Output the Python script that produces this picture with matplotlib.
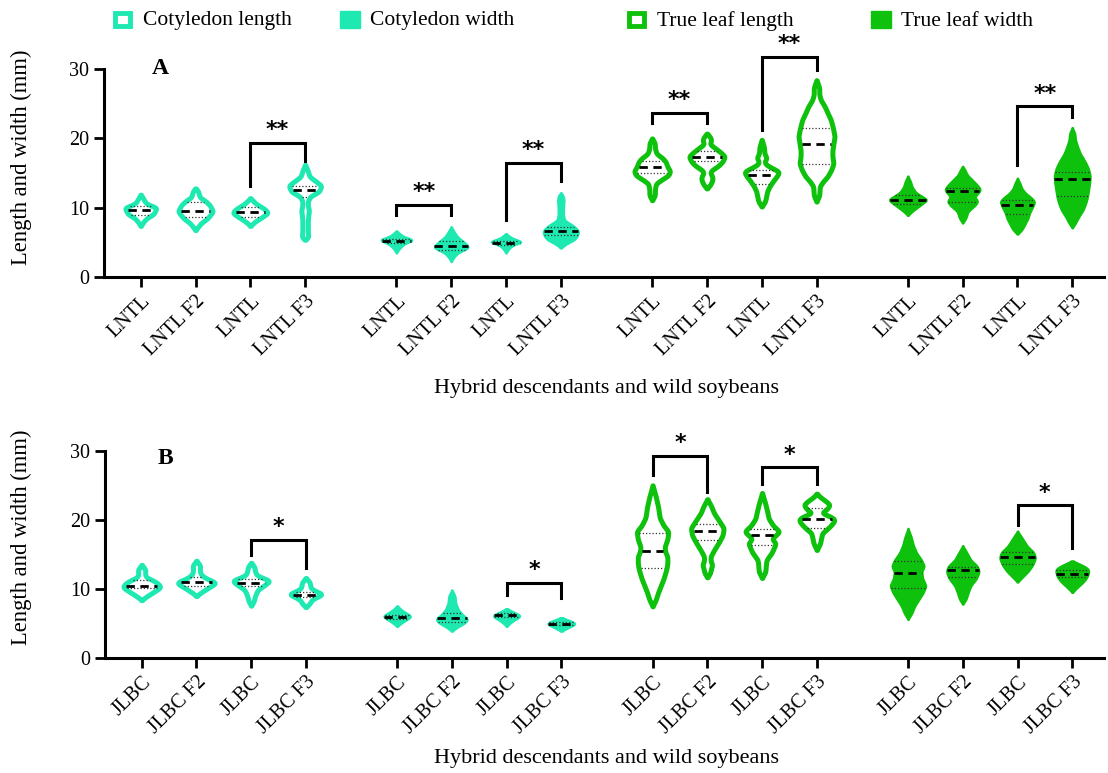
import numpy as np
import matplotlib
matplotlib.use("Agg")
import matplotlib.pyplot as plt
from matplotlib.patches import Rectangle

plt.rcParams['font.family'] = ['Liberation Serif', 'DejaVu Serif']

MINT = '#1DE9B0'
GREEN = '#0DC10D'

labels_A = ['LNTL', 'LNTL F2', 'LNTL', 'LNTL F3'] * 4
labels_B = ['JLBC', 'JLBC F2', 'JLBC', 'JLBC F3'] * 4

# violin outlines: (value, half width) from bottom tip to top tip
prof_A = [
    [(7.4, 0), (8.0, 0.05), (8.6, 0.12), (9.0, 0.22), (9.3, 0.25), (9.7, 0.27), (10.05, 0.30), (10.4, 0.15), (10.8, 0.08), (11.3, 0.05), (11.9, 0)],
    [(6.8, 0), (7.3, 0.05), (7.8, 0.1), (8.5, 0.22), (9.5, 0.32), (10.4, 0.26), (11.0, 0.18), (11.5, 0.08), (12.0, 0.06), (12.4, 0.05), (12.8, 0)],
    [(7.4, 0), (8.0, 0.08), (8.6, 0.2), (9.3, 0.33), (9.9, 0.25), (10.5, 0.12), (11.0, 0.05), (11.4, 0)],
    [(5.4, 0), (5.8, 0.06), (6.5, 0.05), (7.2, 0.05), (8.2, 0.05), (9.0, 0.06), (9.7, 0.07), (10.3, 0.05), (11.0, 0.05), (11.7, 0.1), (12.3, 0.25), (13.2, 0.30), (13.8, 0.2), (14.5, 0.08), (15.3, 0.05), (16.2, 0)],
    [(3.5, 0), (4.2, 0.06), (4.8, 0.14), (5.4, 0.33), (5.9, 0.12), (6.3, 0.06), (6.7, 0)],
    [(2.25, 0), (2.9, 0.05), (3.5, 0.12), (4.3, 0.33), (5.0, 0.25), (5.8, 0.12), (6.5, 0.06), (7.3, 0)],
    [(3.5, 0), (4.2, 0.06), (4.7, 0.14), (5.1, 0.33), (5.6, 0.12), (6.0, 0.05), (6.3, 0)],
    [(4.2, 0), (4.8, 0.1), (5.4, 0.25), (5.9, 0.3), (6.6, 0.33), (7.1, 0.28), (7.6, 0.2), (8.2, 0.07), (9.0, 0.05), (10.0, 0.05), (11.0, 0.06), (11.7, 0.05), (12.2, 0)],
    [(11.1, 0), (11.8, 0.05), (12.6, 0.05), (13.5, 0.07), (14.2, 0.2), (14.7, 0.3), (15.3, 0.33), (15.9, 0.28), (16.6, 0.25), (17.1, 0.2), (17.8, 0.08), (18.6, 0.05), (19.3, 0.05), (20.0, 0)],
    [(12.8, 0), (13.3, 0.06), (14.0, 0.1), (14.5, 0.1), (15.0, 0.06), (15.4, 0.08), (16.0, 0.2), (16.6, 0.28), (17.4, 0.33), (18.0, 0.25), (18.6, 0.15), (19.2, 0.05), (19.7, 0.08), (20.2, 0.06), (20.7, 0)],
    [(10.2, 0), (10.9, 0.06), (11.6, 0.08), (12.4, 0.1), (13.2, 0.15), (14.0, 0.22), (14.6, 0.28), (15.2, 0.32), (15.7, 0.2), (16.2, 0.08), (16.6, 0.05), (17.2, 0.09), (17.8, 0.05), (18.8, 0.04), (19.8, 0)],
    [(10.9, 0), (11.8, 0.05), (13.1, 0.06), (13.8, 0.12), (14.5, 0.2), (15.5, 0.27), (16.4, 0.31), (17.4, 0.29), (18.3, 0.29), (19.3, 0.31), (20.3, 0.33), (21.5, 0.3), (22.7, 0.26), (23.7, 0.2), (24.6, 0.15), (25.5, 0.08), (26.3, 0.05), (27.3, 0.05), (28.4, 0)],
    [(8.9, 0), (9.5, 0.08), (10.2, 0.2), (10.8, 0.3), (11.2, 0.36), (11.7, 0.25), (12.2, 0.15), (13.0, 0.08), (13.8, 0.05), (14.6, 0)],
    [(7.8, 0), (8.5, 0.06), (9.5, 0.1), (10.3, 0.22), (10.9, 0.28), (11.3, 0.25), (11.6, 0.22), (12.1, 0.28), (12.6, 0.33), (13.2, 0.28), (14.0, 0.18), (14.8, 0.08), (15.4, 0.05), (16.0, 0)],
    [(6.2, 0), (6.8, 0.08), (7.5, 0.13), (8.0, 0.16), (8.4, 0.19), (9.2, 0.22), (10.0, 0.27), (10.9, 0.32), (11.5, 0.25), (12.1, 0.15), (12.8, 0.08), (13.5, 0.05), (14.3, 0)],
    [(7.1, 0), (7.8, 0.06), (8.7, 0.12), (9.7, 0.2), (10.7, 0.25), (11.6, 0.28), (12.6, 0.3), (13.6, 0.32), (14.6, 0.33), (15.6, 0.3), (16.3, 0.26), (16.9, 0.22), (17.8, 0.15), (18.8, 0.1), (19.8, 0.06), (20.7, 0.05), (21.6, 0)],
]
med_A = [9.65, 9.6, 9.35, 12.6, 5.2, 4.45, 5.0, 6.7, 15.9, 17.3, 14.7, 19.2, 11.1, 12.4, 10.4, 14.1]
q1_A = [9.0, 8.7, 8.7, 11.5, 4.9, 4.0, 4.7, 6.1, 15.0, 16.7, 13.4, 16.3, 10.6, 10.9, 9.1, 11.7]
q3_A = [10.2, 10.9, 10.1, 13.2, 5.5, 5.2, 5.3, 7.3, 16.8, 18.2, 15.4, 21.5, 11.8, 12.9, 11.2, 15.1]

prof_B = [
    [(8.4, 0), (8.9, 0.08), (9.5, 0.2), (10.0, 0.3), (10.3, 0.35), (10.8, 0.3), (11.3, 0.2), (11.7, 0.08), (12.2, 0.06), (12.8, 0.07), (13.5, 0)],
    [(9.0, 0), (9.5, 0.08), (10.1, 0.2), (10.6, 0.3), (10.9, 0.37), (11.3, 0.25), (11.8, 0.12), (12.3, 0.07), (12.8, 0.06), (13.4, 0.07), (14.1, 0)],
    [(7.6, 0), (8.3, 0.05), (9.0, 0.07), (9.9, 0.12), (10.6, 0.25), (11.2, 0.35), (11.6, 0.22), (12.0, 0.1), (12.6, 0.07), (13.2, 0.06), (13.8, 0)],
    [(7.4, 0), (7.9, 0.07), (8.4, 0.1), (8.8, 0.18), (9.25, 0.32), (9.7, 0.18), (10.1, 0.09), (10.5, 0.08), (11.0, 0.07), (11.6, 0)],
    [(4.6, 0), (5.1, 0.08), (5.7, 0.2), (6.1, 0.27), (6.5, 0.18), (7.0, 0.08), (7.6, 0)],
    [(3.9, 0), (4.5, 0.1), (5.0, 0.22), (5.6, 0.3), (6.3, 0.2), (7.0, 0.12), (8.0, 0.07), (9.0, 0.06), (9.9, 0)],
    [(4.6, 0), (5.2, 0.08), (5.8, 0.2), (6.2, 0.27), (6.6, 0.15), (7.2, 0)],
    [(3.9, 0), (4.4, 0.12), (5.0, 0.28), (5.4, 0.18), (5.9, 0)],
    [(7.5, 0), (8.5, 0.06), (9.5, 0.1), (10.5, 0.15), (11.5, 0.2), (12.8, 0.25), (13.7, 0.27), (14.7, 0.27), (15.4, 0.23), (16.1, 0.22), (17.2, 0.27), (18.3, 0.29), (19.2, 0.2), (20.3, 0.13), (21.9, 0.1), (23.3, 0.06), (25.0, 0)],
    [(11.7, 0), (12.3, 0.05), (13.0, 0.07), (13.5, 0.09), (14.1, 0.06), (14.7, 0.06), (15.6, 0.12), (16.9, 0.22), (17.8, 0.28), (18.8, 0.3), (19.8, 0.22), (21.0, 0.12), (22.0, 0.07), (23.0, 0)],
    [(11.6, 0), (12.5, 0.06), (13.5, 0.07), (14.2, 0.08), (15.3, 0.18), (16.6, 0.25), (17.3, 0.18), (18.3, 0.32), (19.2, 0.2), (20.2, 0.12), (21.0, 0.1), (22.3, 0.06), (23.9, 0)],
    [(15.65, 0), (16.6, 0.06), (17.4, 0.08), (18.1, 0.1), (18.9, 0.22), (19.6, 0.3), (20.1, 0.33), (20.6, 0.22), (21.0, 0.08), (21.5, 0.18), (22.2, 0.24), (22.8, 0.15), (23.3, 0.06), (23.8, 0)],
    [(5.6, 0), (6.5, 0.07), (7.5, 0.12), (8.5, 0.2), (9.5, 0.28), (10.5, 0.33), (11.5, 0.27), (12.5, 0.25), (13.3, 0.3), (14.2, 0.25), (15.2, 0.16), (16.3, 0.1), (17.5, 0.06), (18.8, 0)],
    [(7.8, 0), (8.5, 0.06), (9.5, 0.1), (10.5, 0.15), (11.5, 0.25), (12.5, 0.3), (13.3, 0.27), (14.2, 0.15), (15.2, 0.08), (16.3, 0)],
    [(11.0, 0), (11.8, 0.1), (12.6, 0.2), (13.5, 0.28), (14.5, 0.33), (15.3, 0.3), (16.2, 0.18), (17.2, 0.1), (18.4, 0)],
    [(9.5, 0), (10.3, 0.1), (11.0, 0.2), (11.7, 0.27), (12.4, 0.3), (12.9, 0.3), (13.4, 0.2), (14.1, 0)],
]
med_B = [10.5, 11.0, 10.9, 9.2, 6.0, 5.8, 6.3, 5.0, 15.55, 18.4, 17.8, 20.1, 12.3, 12.7, 14.6, 12.2]
q1_B = [10.1, 10.4, 10.5, 8.9, 5.7, 5.3, 6.0, 4.8, 13.1, 17.1, 16.4, 18.9, 10.2, 11.8, 13.6, 11.7]
q3_B = [11.3, 11.7, 11.4, 9.6, 6.3, 6.6, 6.5, 5.2, 18.1, 19.4, 18.7, 21.7, 14.0, 13.2, 15.4, 12.8]

# significance brackets: (left, right, top, left leg end, right leg end, stars)
sig_A = [(2, 3, 19.4, 13.15, 16.7, '**'), (4, 5, 10.4, 9.0, 9.0, '**'),
         (6, 7, 16.5, 8.25, 13.8, '**'), (8, 9, 23.7, 22.2, 22.2, '**'),
         (10, 11, 31.8, 21.2, 29.9, '**'), (14, 15, 24.6, 16.2, 23.1, '**')]
sig_B = [(2, 3, 17.1, 14.9, 13.0, '*'), (6, 7, 10.9, 9.15, 8.7, '*'),
         (8, 9, 29.2, 26.5, 24.1, '*'), (10, 11, 27.6, 25.2, 25.2, '*'),
         (14, 15, 22.1, 19.3, 16.0, '*')]

pos = [g * 14 / 3 + i for g in range(4) for i in range(4)]
colors = [MINT] * 8 + [GREEN] * 8
filled = [False] * 4 + [True] * 4 + [False] * 4 + [True] * 4


def profile(knots):
    v = np.array([k[0] for k in knots])
    w = np.array([k[1] for k in knots])
    yy = np.linspace(v[0], v[-1], 400)
    ww = np.interp(yy, v, w)
    # soften the corners a bit
    step = yy[1] - yy[0]
    sig = 0.18 / step
    kx = np.arange(-int(3 * sig), int(3 * sig) + 1)
    ker = np.exp(-0.5 * (kx / sig) ** 2)
    ker /= ker.sum()
    ww = np.convolve(np.pad(ww, len(kx) // 2), ker, mode='valid')
    ww[0] = ww[-1] = 0
    return yy, ww


def draw_panel(ax, profs, meds, q1s, q3s, labels, sigs, letter, letter_pos):
    for x, kn, m, a, b, c, f in zip(pos, profs, meds, q1s, q3s, colors, filled):
        yy, ww = profile(kn)
        if f:
            pc = ax.fill_betweenx(yy, x - ww, x + ww, facecolor=c, edgecolor=c, lw=1.5, zorder=2)
            inset = 0.0
        else:
            pc = ax.fill_betweenx(yy, x - ww, x + ww, facecolor='white', edgecolor=c, lw=3.6, zorder=2)
            inset = 0.04
        pc.set_joinstyle('round')
        for q in (a, b):
            hw = max(np.interp(q, yy, ww) - inset, 0.02)
            ax.plot([x - hw, x + hw], [q, q], color='#333333', lw=0.9, ls=(0, (1, 1.6)), zorder=3)
        hw = max(np.interp(m, yy, ww) - inset, 0.05)
        ax.plot([x - hw, x + hw], [m, m], color='black', lw=2.0, ls=(0, (3, 2)), zorder=3)

    for i, j, top, li, lj, s in sigs:
        xi, xj = pos[i], pos[j]
        ax.plot([xi, xi, xj, xj], [li, top, top, lj], color='black', lw=2.2,
                solid_joinstyle='miter', clip_on=False, zorder=4)
        ax.text((xi + xj) / 2, top + 0.4, s, ha='center', va='bottom', fontsize=16,
                fontweight='bold', family='DejaVu Sans', clip_on=False)

    ax.set_xlim(-0.67, 17.58)
    ax.set_ylim(0, 30)
    ax.set_yticks([0, 10, 20, 30])
    ax.set_xticks(pos)
    ax.set_xticklabels(labels, rotation=45, ha='right', rotation_mode='anchor')
    for s in ('top', 'right'):
        ax.spines[s].set_visible(False)
    for s in ('left', 'bottom'):
        ax.spines[s].set_linewidth(2.2)
    ax.tick_params(width=2.0, length=7, labelsize=14.5)
    ax.text(letter_pos[0], letter_pos[1], letter, fontsize=17, fontweight='bold', ha='center', va='center')


fig = plt.figure(figsize=(11.08, 7.73), dpi=100)
axA = fig.add_axes([104 / 1108, 1 - 277.3 / 773, 1000 / 1108, 208.3 / 773])
axB = fig.add_axes([105 / 1108, 1 - 658.3 / 773, 999 / 1108, 207.6 / 773])
draw_panel(axA, prof_A, med_A, q1_A, q3_A, labels_A, sig_A, 'A', (0.35, 30.0))
draw_panel(axB, prof_B, med_B, q1_B, q3_B, labels_B, sig_B, 'B', (0.44, 28.9))

# axis titles, placed in figure pixels
for ylab_y, xlab_y in ((157, 388), (537, 759)):
    fig.text(21 / 1108, 1 - ylab_y / 773, 'Length and width (mm)', rotation=90,
             fontsize=16.3, ha='center', va='center')
    fig.text(607 / 1108, 1 - xlab_y / 773, 'Hybrid descendants and wild soybeans',
             fontsize=16, ha='center', va='center')

# legend along the top
leg_items = [('Cotyledon length', MINT, False, 113), ('Cotyledon width', MINT, True, 340),
             ('True leaf length', GREEN, False, 627), ('True leaf width', GREEN, True, 871)]
for text, c, f, px in leg_items:
    if f:
        r = Rectangle((px / 1108, 1 - 28 / 773), 20 / 1108, 17 / 773, facecolor=c, edgecolor=c,
                      lw=1, transform=fig.transFigure)
    else:
        r = Rectangle((px / 1108 + 0.002, 1 - 26 / 773), 15 / 1108, 13 / 773, facecolor='white',
                      edgecolor=c, lw=3.5, transform=fig.transFigure)
    fig.add_artist(r)
    fig.text((px + 30) / 1108, 1 - 21 / 773, text, fontsize=15.5, ha='left', va='center')

fig.savefig('out.png', dpi=100)
